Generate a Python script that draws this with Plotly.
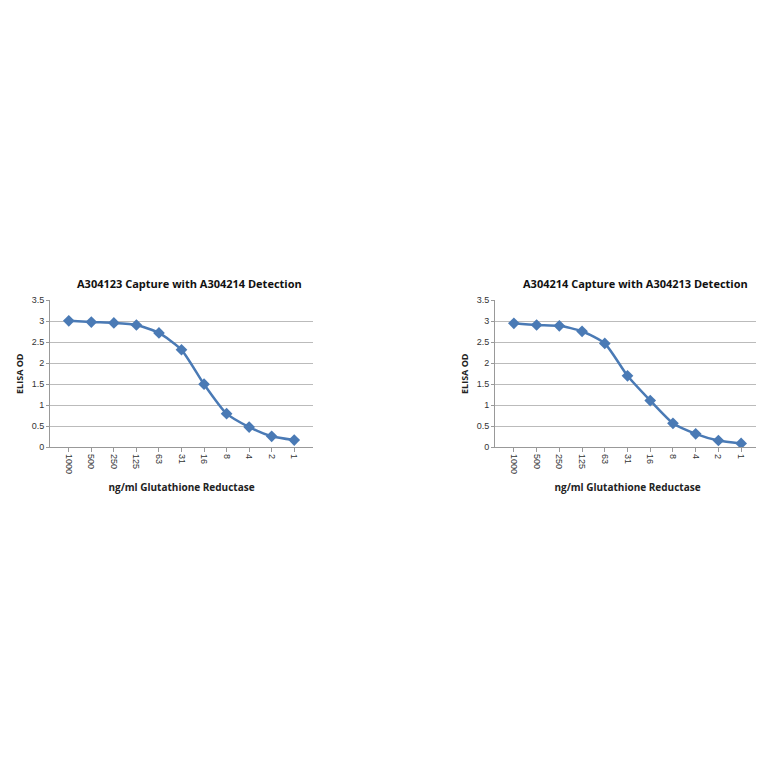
import plotly.graph_objects as go

conc = ["1000", "500", "250", "125", "63", "31", "16", "8", "4", "2", "1"]
od_left = [3.01, 2.98, 2.96, 2.91, 2.72, 2.32, 1.50, 0.80, 0.48, 0.26, 0.17]
od_right = [2.95, 2.91, 2.89, 2.76, 2.47, 1.70, 1.11, 0.57, 0.32, 0.16, 0.09]
titles = ["A304123 Capture with A304214 Detection", "A304214 Capture with A304213 Detection"]
xtitle = "ng/ml Glutathione Reductase"
ytitle = "ELISA OD"

W = 764
def px(x): return x / W
def py(y): return 1 - (y - 7) / W

fig = go.Figure()
color = "#4a7ab5"
doms = [(px(42), px(305)), (px(487), px(752))]
for i, (vals, dom) in enumerate(zip([od_left, od_right], doms)):
    sfx = "" if i == 0 else "2"
    fig.add_trace(go.Scatter(x=conc, y=vals, mode="lines+markers",
                             line=dict(color=color, width=2.5, shape="spline", smoothing=0.6),
                             marker=dict(symbol="diamond", size=9, color=color),
                             xaxis="x" + sfx, yaxis="y" + sfx, showlegend=False))
    axx = dict(domain=list(dom), type="category", anchor="y" + sfx, tickangle=90,
               tickfont=dict(family="Liberation Sans", size=9, color="#333"),
               showline=True, linecolor="#999", ticks="outside", ticklen=4, tickcolor="#999",
               showgrid=False,
               title=dict(text="<b>" + xtitle + "</b>", font=dict(family="Open Sans", size=10, color="#222"), standoff=10))
    axy = dict(domain=[py(447), py(298)], range=[0, 3.5], dtick=0.5, anchor="x" + sfx,
               tickfont=dict(family="Liberation Sans", size=9, color="#333"),
               showline=True, linecolor="#999", gridcolor="#bbb", zeroline=False,
               ticks="outside", ticklen=3, tickcolor="#999",
               title=dict(text="<b>" + ytitle + "</b>", font=dict(family="Open Sans", size=9, color="#222"), standoff=6))
    fig.layout["xaxis" + sfx] = axx
    fig.layout["yaxis" + sfx] = axy
    fig.add_annotation(text="<b>" + titles[i] + "</b>", x=(dom[0] + dom[1]) / 2 + 0.01, y=py(281),
                       xref="paper", yref="paper", showarrow=False, xanchor="center", yanchor="middle",
                       font=dict(family="Open Sans", size=11, color="#111"))

fig.update_layout(width=764, height=764, margin=dict(l=0, r=0, t=0, b=0),
                  plot_bgcolor="white", paper_bgcolor="white")
fig.write_html("out.html")
